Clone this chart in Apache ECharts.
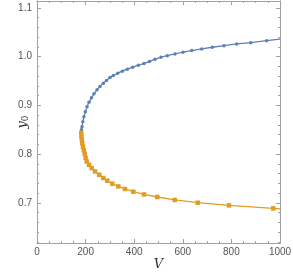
<!DOCTYPE html>
<html><head><meta charset="utf-8">
<script src="https://cdn.jsdelivr.net/npm/echarts@6/dist/echarts.min.js"></script>
<style>html,body{margin:0;padding:0;background:#fff;}#c{width:293px;height:278px;}</style>
</head><body><div id="c"></div>
<script>
const blueV = [182.3,183.1,185.2,188.5,193.0,198.8,205.8,214.0,224.3,234.6,246.9,259.3,272.8,286.0,300.4,314.0,332.1,351.0,371.6,393.8,416.9,440.3,463.0,485.6,510.3,536.2,567.9,600.8,636.6,677.8,721.4,769.5,821.8,879.4,945.3,1000];
const blueY = [0.8439,0.8500,0.8561,0.8664,0.8767,0.8868,0.8971,0.9063,0.9155,0.9237,0.9319,0.9390,0.9452,0.9513,0.9570,0.9611,0.9660,0.9701,0.9742,0.9783,0.9824,0.9857,0.9902,0.9945,0.9988,1.0020,1.0055,1.0090,1.0123,1.0158,1.0192,1.0225,1.0260,1.0286,1.0327,1.0358];
const orangeV = [182.3,182.7,184.4,186.4,189.3,192.6,196.3,200.0,204.5,214.0,225.0,238.7,256.4,272.8,289.3,309.9,334.6,362.1,396.3,440.3,495.0,566.7,661.3,790.0,972.4,1000];
const orangeY = [0.8439,0.8367,0.8296,0.8224,0.8152,0.8081,0.8010,0.7927,0.7851,0.7784,0.7716,0.7647,0.7579,0.7512,0.7457,0.7395,0.7340,0.7287,0.7231,0.7176,0.7123,0.7062,0.7006,0.6951,0.6890,0.6881];
const xTicks = [0,200,400,600,800,1000];
const yTicks = [0.7,0.8,0.9,1.0,1.1];
const yMinorTicks = [0.62,0.64,0.66,0.68,0.72,0.74,0.76,0.78,0.82,0.84,0.86,0.88,0.92,0.94,0.96,0.98,1.02,1.04,1.06,1.08,1.12];
const yMin = 0.618, yMax = 1.114;

function pts(v, y) {
  return v.map((x, i) => {
    const last = i === v.length - 1 && x >= 1000;
    return last ? {value: [x, y[i]], symbolSize: 0} : [x, y[i]];
  });
}
const frameColor = '#a0a0a0';
const labelStyle = {color: '#555', fontSize: 10, fontFamily: 'Liberation Sans, Arial, sans-serif'};

function xAx(pos, showLabel, name) {
  return {
    type: 'value', position: pos, min: 0, max: 1000, interval: 200,
    axisLine: {show: true, onZero: false, lineStyle: {color: frameColor, width: 1}},
    axisTick: {show: true, inside: true, length: 4, lineStyle: {color: frameColor}},
    minorTick: {show: true, splitNumber: 4, length: 2, lineStyle: {color: frameColor}},
    axisLabel: Object.assign({show: showLabel, margin: 4, formatter: v => String(v)}, labelStyle),
    splitLine: {show: false},
    name: name || '', nameLocation: 'middle', nameGap: 15, nameMoveOverlap: false,
    nameTextStyle: {fontFamily: 'DejaVu Serif, Liberation Serif, serif', fontStyle: 'italic', fontSize: 13, color: '#333'}
  };
}
function yAx(pos, ticks, len, showLabel, name) {
  return {
    type: 'value', position: pos, min: yMin, max: yMax, offset: 0,
    axisLine: {show: true, onZero: false, lineStyle: {color: frameColor, width: 1}},
    axisTick: {show: true, inside: true, length: len, customValues: ticks, lineStyle: {color: frameColor}},
    axisLabel: Object.assign({show: showLabel, margin: 5, customValues: ticks,
      formatter: v => v.toFixed(1)}, labelStyle),
    splitLine: {show: false},
    name: name || '', nameLocation: 'middle', nameGap: 7, nameRotate: 90, nameMoveOverlap: false,
    nameTextStyle: {
      rich: {
        i: {fontFamily: 'DejaVu Serif, Liberation Serif, serif', fontStyle: 'italic', fontSize: 13, color: '#333'},
        s: {fontFamily: 'DejaVu Serif, Liberation Serif, serif', fontSize: 9, color: '#333', verticalAlign: 'bottom', padding: [6, 0, 0, 0]}
      }
    }
  };
}

const chart = echarts.init(document.getElementById('c'), null, {renderer: 'canvas'});
chart.setOption({
  animation: false,
  backgroundColor: '#fff',
  grid: {left: 37, right: 13, top: 1, bottom: 35, containLabel: false, outerBoundsMode: 'none'},
  xAxis: [xAx('bottom', true, 'V'), xAx('top', false)],
  yAxis: [
    yAx('left', yTicks, 4, true, '{i|y}{s|0}'),
    yAx('left', yMinorTicks, 2, false),
    yAx('right', yTicks, 4, false),
    yAx('right', yMinorTicks, 2, false)
  ],
  series: [
    {type: 'line', xAxisIndex: 0, yAxisIndex: 0, data: pts(blueV, blueY),
     symbol: 'circle', symbolSize: 3.5, showSymbol: true,
     lineStyle: {color: '#5E81B5', width: 1.3}, itemStyle: {color: '#5E81B5'}, clip: true},
    {type: 'line', xAxisIndex: 0, yAxisIndex: 0, data: pts(orangeV, orangeY),
     symbol: 'rect', symbolSize: 4.5, showSymbol: true,
     lineStyle: {color: '#E19C24', width: 1.3}, itemStyle: {color: '#E19C24'}, clip: true}
  ]
});
</script></body></html>
